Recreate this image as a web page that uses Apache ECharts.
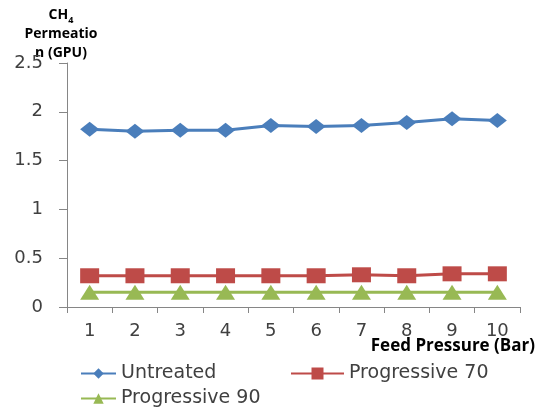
<!DOCTYPE html>
<html><head><meta charset="utf-8">
<script src="https://cdn.jsdelivr.net/npm/echarts@6/dist/echarts.min.js"></script>
<style>html,body{margin:0;padding:0;background:#fff}#c{width:536px;height:409px}</style>
</head><body><div id="c"></div>
<script>
const categories = ['1','2','3','4','5','6','7','8','9','10'];
const untreated = [1.82,1.80,1.81,1.81,1.86,1.85,1.86,1.89,1.93,1.91];
const progressive70 = [0.32,0.32,0.32,0.32,0.32,0.32,0.33,0.32,0.34,0.34];
const progressive90 = [0.15,0.15,0.15,0.15,0.15,0.15,0.15,0.15,0.15,0.15];
const yTicks = [0,0.5,1,1.5,2,2.5];

const chart = echarts.init(document.getElementById('c'));
const font = 'DejaVu Sans';
const legendText = {fontFamily: font, fontSize: 19, color: '#404040'};
chart.setOption({
  animation: false,
  grid: {left: 67, right: 16, top: 63, bottom: 102},
  xAxis: {
    type: 'category', data: categories, boundaryGap: true,
    axisLine: {lineStyle: {color: '#868686'}},
    axisTick: {show: true, length: 6, lineStyle: {color: '#868686'}},
    axisLabel: {fontFamily: font, fontSize: 18, color: '#404040', margin: 15}
  },
  yAxis: {
    type: 'value', min: 0, max: 2.5, interval: 0.5,
    axisLine: {show: true, lineStyle: {color: '#868686'}},
    axisTick: {show: true, length: 8, lineStyle: {color: '#868686'}},
    splitLine: {show: false},
    axisLabel: {fontFamily: font, fontSize: 18, color: '#404040', margin: 24,
      formatter: v => yTicks.indexOf(v) >= 0 ? String(v) : ''}
  },
  legend: [
    {data: ['Untreated'], left: 80, top: 364, padding: 0, itemWidth: 35, itemHeight: 13, textStyle: legendText},
    {data: ['Progressive 70'], left: 290, top: 364, padding: 0, itemWidth: 53, itemHeight: 15, textStyle: legendText},
    {data: ['Progressive 90'], left: 80, top: 389, padding: 0, itemWidth: 35, itemHeight: 13, textStyle: legendText}
  ],
  graphic: [{
    type: 'text',
    style: {
      x: 61, y: 6,
      rich: {
        b: {fontFamily: 'Open Sans', fontWeight: 'bold', fontSize: 14, fill: '#000', lineHeight: 19},
        s: {fontFamily: 'Open Sans', fontWeight: 'bold', fontSize: 9, fill: '#000', padding: [9,0,0,0], lineHeight: 19}
      },
      text: '{b|CH}{s|4}\n{b|Permeatio}\n{b|n (GPU)}',
      align: 'center'
    }
  }, {
    type: 'text',
    style: {
      x: 535, y: 338,
      text: 'Feed Pressure (Bar)',
      fontFamily: 'Open Sans', fontWeight: 'bold', fontSize: 17, fill: '#000',
      align: 'right'
    }
  }],
  series: [
    {name: 'Untreated', type: 'line', data: untreated, symbol: 'diamond', symbolSize: [19, 15],
      lineStyle: {color: '#4a7ebb', width: 3}, itemStyle: {color: '#4a7ebb'}},
    {name: 'Progressive 70', type: 'line', data: progressive70, symbol: 'rect', symbolSize: [19, 15],
      lineStyle: {color: '#be4b48', width: 3}, itemStyle: {color: '#be4b48'}},
    {name: 'Progressive 90', type: 'line', data: progressive90, symbol: 'triangle', symbolSize: [19, 15],
      lineStyle: {color: '#98b954', width: 3}, itemStyle: {color: '#98b954'}}
  ]
});
</script></body></html>
